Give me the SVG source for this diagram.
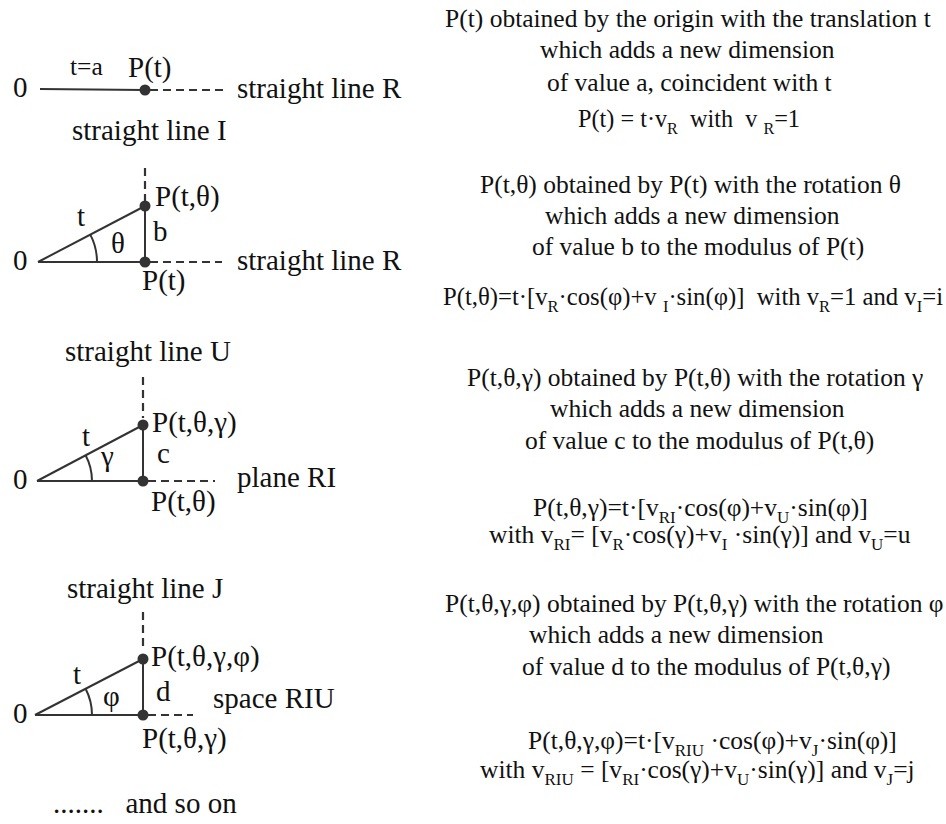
<svg xmlns="http://www.w3.org/2000/svg" width="946" height="824" viewBox="0 0 946 824">
<style>
text{font-family:"Liberation Serif","Times New Roman",serif;fill:#111;}
.lbl{font-size:29px;}
.rt{font-size:25.5px;}
.sub{font-size:17px;}
.ln{stroke:#333;stroke-width:2;fill:none;}
.ds{stroke:#333;stroke-width:2.2;fill:none;stroke-dasharray:8,5;}
.dot{fill:#333;}
</style>
<rect width="946" height="824" fill="#fff"/>
<g id="connectors">
<line class="ln" x1="40" y1="89" x2="144" y2="90"/>
<line class="ds" x1="150" y1="90" x2="228" y2="90"/>
<line class="ds" x1="145" y1="168" x2="145" y2="201"/>
<line class="ln" x1="38" y1="262" x2="145" y2="262"/>
<line class="ln" x1="38" y1="262" x2="145" y2="206"/>
<line class="ln" x1="145" y1="206" x2="145" y2="262"/>
<line class="ds" x1="150" y1="262" x2="222" y2="262"/>
<path class="ln" d="M97,262 A59,59 0 0 0 90.3,234.6"/>
<line class="ds" x1="143" y1="377" x2="143" y2="418"/>
<line class="ln" x1="37" y1="481" x2="143" y2="481"/>
<line class="ln" x1="37" y1="481" x2="143" y2="425"/>
<line class="ln" x1="143" y1="425" x2="143" y2="481"/>
<line class="ds" x1="148" y1="481" x2="215" y2="481"/>
<path class="ln" d="M92,481 A55,55 0 0 0 85.6,455.3"/>
<line class="ds" x1="143" y1="612" x2="143" y2="651"/>
<line class="ln" x1="35" y1="715" x2="143" y2="715"/>
<line class="ln" x1="35" y1="715" x2="143" y2="659"/>
<line class="ln" x1="143" y1="659" x2="143" y2="715"/>
<line class="ds" x1="148" y1="715" x2="193" y2="715"/>
<path class="ln" d="M92,715 A57,57 0 0 0 85.6,688.8"/>
</g>
<g id="node-d1">
<text class="lbl" x="13" y="97">0</text>
<text class="rt" x="70" y="75">t=a</text>
<text class="lbl" x="128" y="77">P(t)</text>
<circle class="dot" cx="145" cy="90" r="5.5"/>
<text class="lbl" x="237" y="98">straight line R</text>
</g>
<g id="node-d2">
<text class="lbl" x="72" y="140">straight line I</text>
<circle class="dot" cx="145" cy="206" r="5.5"/>
<circle class="dot" cx="145" cy="262" r="5.5"/>
<text class="lbl" x="155" y="206">P(t,θ)</text>
<text class="lbl" x="77" y="226">t</text>
<text class="lbl" x="111" y="253">θ</text>
<text class="lbl" x="153" y="241">b</text>
<text class="lbl" x="13" y="270">0</text>
<text class="lbl" x="237" y="270">straight line R</text>
<text class="lbl" x="142" y="290">P(t)</text>
</g>
<g id="node-d3">
<text class="lbl" x="65" y="361">straight line U</text>
<circle class="dot" cx="143" cy="425" r="5.5"/>
<circle class="dot" cx="143" cy="481" r="5.5"/>
<text class="lbl" x="152" y="432">P(t,θ,γ)</text>
<text class="lbl" x="82" y="446">t</text>
<text class="lbl" x="101" y="466">γ</text>
<text class="lbl" x="157" y="463">c</text>
<text class="lbl" x="13" y="489">0</text>
<text class="lbl" x="237" y="487">plane RI</text>
<text class="lbl" x="151" y="511">P(t,θ)</text>
</g>
<g id="node-d4">
<text class="lbl" x="67" y="598">straight line J</text>
<circle class="dot" cx="143" cy="659" r="5.5"/>
<circle class="dot" cx="143" cy="715" r="5.5"/>
<text class="lbl" x="151" y="666">P(t,θ,γ,φ)</text>
<text class="lbl" x="73" y="684">t</text>
<text class="lbl" x="103" y="706">φ</text>
<text class="lbl" x="156" y="701">d</text>
<text class="lbl" x="13" y="723">0</text>
<text class="lbl" x="213" y="708">space RIU</text>
<text class="lbl" x="142" y="748">P(t,θ,γ)</text>
<text class="lbl" x="53" y="813" xml:space="preserve">.......   and so on</text>
</g>
<g id="node-t1">
<text class="rt" x="445" y="27">P(t) obtained by the origin with the translation t</text>
<text class="rt" x="540" y="58">which adds a new dimension</text>
<text class="rt" x="547" y="91">of value a, coincident with t</text>
<text class="rt" x="578" y="127" xml:space="preserve" textLength="222" lengthAdjust="spacingAndGlyphs">P(t) = t·v<tspan class="sub" dy="7">R</tspan><tspan dy="-7">  with  v </tspan><tspan class="sub" dy="7">R</tspan><tspan dy="-7">=1</tspan></text>
</g>
<g id="node-t2">
<text class="rt" x="480" y="193">P(t,θ) obtained by P(t) with the rotation θ</text>
<text class="rt" x="545" y="224">which adds a new dimension</text>
<text class="rt" x="532" y="255">of value b to the modulus of P(t)</text>
<text class="rt" x="443" y="305" xml:space="preserve" textLength="500" lengthAdjust="spacingAndGlyphs">P(t,θ)=t·[v<tspan class="sub" dy="7">R</tspan><tspan dy="-7">·cos(φ)+v </tspan><tspan class="sub" dy="7">I</tspan><tspan dy="-7">·sin(φ)]  with v</tspan><tspan class="sub" dy="7">R</tspan><tspan dy="-7">=1 and v</tspan><tspan class="sub" dy="7">I</tspan><tspan dy="-7">=i</tspan></text>
</g>
<g id="node-t3">
<text class="rt" x="467" y="386">P(t,θ,γ) obtained by P(t,θ) with the rotation γ</text>
<text class="rt" x="550" y="417">which adds a new dimension</text>
<text class="rt" x="525" y="449">of value c to the modulus of P(t,θ)</text>
<text class="rt" x="533" y="516">P(t,θ,γ)=t·[v<tspan class="sub" dy="7">RI</tspan><tspan dy="-7">·cos(φ)+v</tspan><tspan class="sub" dy="7">U</tspan><tspan dy="-7">·sin(φ)]</tspan></text>
<text class="rt" x="489" y="543">with v<tspan class="sub" dy="7">RI</tspan><tspan dy="-7">= [v</tspan><tspan class="sub" dy="7">R</tspan><tspan dy="-7">·cos(γ)+v</tspan><tspan class="sub" dy="7">I</tspan><tspan dy="-7"> ·sin(γ)] and v</tspan><tspan class="sub" dy="7">U</tspan><tspan dy="-7">=u</tspan></text>
</g>
<g id="node-t4">
<text class="rt" x="445" y="612">P(t,θ,γ,φ) obtained by P(t,θ,γ) with the rotation φ</text>
<text class="rt" x="529" y="643">which adds a new dimension</text>
<text class="rt" x="522" y="675">of value d to the modulus of P(t,θ,γ)</text>
<text class="rt" x="528" y="749" xml:space="preserve">P(t,θ,γ,φ)=t·[v<tspan class="sub" dy="7">RIU</tspan><tspan dy="-7"> ·cos(φ)+v</tspan><tspan class="sub" dy="7">J</tspan><tspan dy="-7">·sin(φ)]</tspan></text>
<text class="rt" x="480" y="778" xml:space="preserve">with v<tspan class="sub" dy="7">RIU</tspan><tspan dy="-7"> = [v</tspan><tspan class="sub" dy="7">RI</tspan><tspan dy="-7">·cos(γ)+v</tspan><tspan class="sub" dy="7">U</tspan><tspan dy="-7">·sin(γ)] and v</tspan><tspan class="sub" dy="7">J</tspan><tspan dy="-7">=j</tspan></text>
</g>
</svg>
